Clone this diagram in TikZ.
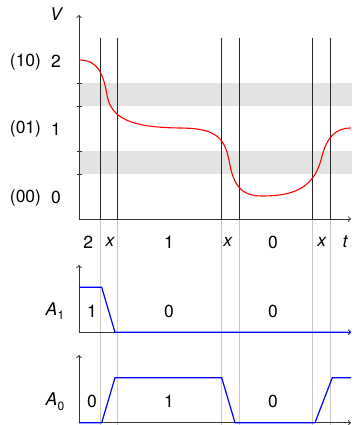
\documentclass[tikz,border=0pt]{standalone}
\usepackage{fontspec}
\setmainfont{TeX Gyre Heros}
\begin{document}
\begin{tikzpicture}[x=1pt,y=-1pt,
  font=\fontsize{17.5}{20}\selectfont,
  axisline/.style={line width=1pt, black!80, ->},
  tickline/.style={line width=0.8pt, black!80},
  band/.style={fill=black!11},
  vtop/.style={line width=0.9pt, black!85},
  vbot/.style={line width=0.9pt, black!22},
  redcurve/.style={line width=1.1pt, red},
  bluecurve/.style={line width=1.2pt, blue},
  lbl/.style={inner sep=0pt, anchor=center}]
\useasboundingbox (0,0) rectangle (355,425);
% bands
\fill[band] (79,83.4) rectangle (352,106.4);
\fill[band] (79,151.4) rectangle (352,174.4);
% vertical lines
\foreach \xx in {100,117.5,221.7,239.7,312.7,330.7}{
  \draw[vtop] (\xx,38) -- (\xx,219);
  \draw[vbot] (\xx,219) -- (\xx,425);
}
% axes top
\coordinate (o) at (79,219);
\coordinate (vtip) at (79,15);
\coordinate (ttip) at (351,219);
\draw[axisline] (o) -- (vtip);
\draw[axisline] (o) -- (ttip);
\foreach \yy in {83.4,106.4,151.4,174.4}
  \draw[tickline] (76.5,\yy) -- (81.5,\yy);
% red curve
\draw[redcurve] (79,60) .. controls (97,60) and (103,72) .. (107,95)
  .. controls (111,118) and (130,127.5) .. (180,128)
  .. controls (214,128.3) and (224,136) .. (229,160)
  .. controls (233,184) and (240,196) .. (262,196)
  .. controls (292,196) and (313,189) .. (321,160)
  .. controls (326,138) and (335,128) .. (351,128);
% labels top
\node[lbl] (V) at (56,14) {\itshape V};
\node[lbl] (c10) at (25.5,61.5) {(10)};
\node[lbl] (v2) at (56,61.5) {2};
\node[lbl] (c01) at (25.5,129) {(01)};
\node[lbl] (v1) at (56,129) {1};
\node[lbl] (c00) at (25.5,197.5) {(00)};
\node[lbl] (v0) at (56,197.5) {0};
% time labels
\node[lbl] (s2) at (88.3,242) {2};
\node[lbl] (sx1) at (110,242) {\itshape x};
\node[lbl] (s1) at (169,242) {1};
\node[lbl] (sx2) at (227.7,242) {\itshape x};
\node[lbl] (s0) at (273,242) {0};
\node[lbl] (sx3) at (321.7,242) {\itshape x};
\node[lbl] (st) at (345,242) {\itshape t};
% A1 plot
\coordinate (o1) at (79,332.3);
\coordinate (a1tip) at (79,265);
\coordinate (t1tip) at (351,332.3);
\draw[axisline] (o1) -- (a1tip);
\draw[axisline] (o1) -- (t1tip);
\draw[bluecurve] (79,287.3) -- (101.7,287.3) -- (115,332.3) -- (348,332.3);
\draw[blue, line width=0.8pt, ->] (340,332.3) -- (t1tip);
\node[lbl] (A1) at (55,311) {\itshape A\kern0.3pt\raisebox{-0.45ex}{\fontsize{12}{14}\selectfont\upshape 1}};
\node[lbl] (a11) at (92,311) {1};
\node[lbl] (a10) at (169,311) {0};
\node[lbl] (a10b) at (273,311) {0};
% A0 plot
\coordinate (o0) at (79,422.7);
\coordinate (a0tip) at (79,355);
\coordinate (t0tip) at (351,422.7);
\draw[axisline] (o0) -- (a0tip);
\draw[axisline] (o0) -- (t0tip);
\draw[bluecurve] (79,422.7) -- (101.7,422.7) -- (115,377.7) -- (221.7,377.7)
  -- (235,422.7) -- (315,422.7) -- (332.3,377.7) -- (351,377.7);
\node[lbl] (A0) at (55,401.7) {\itshape A\kern0.3pt\raisebox{-0.45ex}{\fontsize{12}{14}\selectfont\upshape 0}};
\node[lbl] (a00) at (92,401.7) {0};
\node[lbl] (a01) at (169,401.7) {1};
\node[lbl] (a00b) at (273,401.7) {0};
\end{tikzpicture}
\end{document}
